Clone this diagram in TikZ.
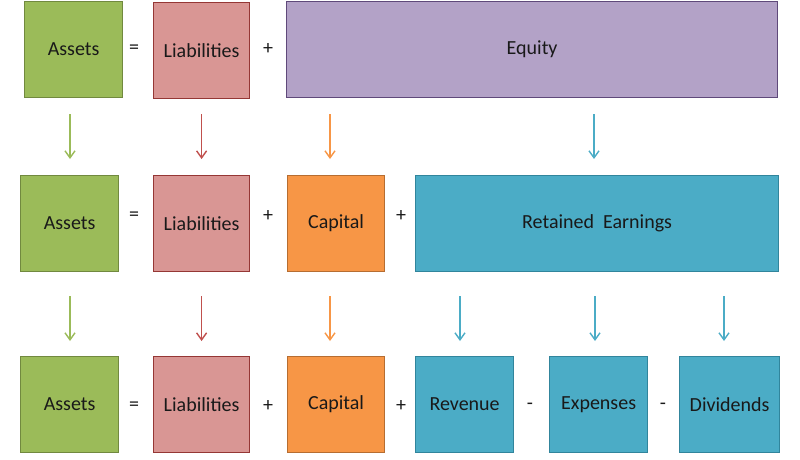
\documentclass[tikz,border=0pt]{standalone}
\usepackage{fontspec}
\setmainfont{Carlito}
\usetikzlibrary{arrows.meta,positioning}
\definecolor{grnfill}{HTML}{9BBB59}
\definecolor{grnline}{HTML}{71893F}
\definecolor{redfill}{HTML}{D99694}
\definecolor{redline}{HTML}{953735}
\definecolor{redarrow}{HTML}{C0504D}
\definecolor{purfill}{HTML}{B3A2C7}
\definecolor{purline}{HTML}{5F497A}
\definecolor{orafill}{HTML}{F79646}
\definecolor{oraline}{HTML}{B66D31}
\definecolor{blufill}{HTML}{4BACC6}
\definecolor{bluline}{HTML}{31859C}
\tikzstyle{block}=[draw, line width=1.2pt, anchor=north west, minimum height=96pt, inner sep=0pt, font=\fontsize{20}{23}\selectfont, text=black!90]
\tikzstyle{op}=[font=\fontsize{20}{23}\selectfont, text=black!90]
\tikzstyle{arrow}=[line width=1.4pt,-{Straight Barb[length=7pt,width=10pt]}]
\tikzstyle{green}=[block, fill=grnfill, draw=grnline, minimum width=98pt]
\tikzstyle{red}=[block, fill=redfill, draw=redline, minimum width=96pt]
\tikzstyle{orange}=[block, fill=orafill, draw=oraline, minimum width=97pt]
\tikzstyle{blue}=[block, fill=blufill, draw=bluline]
\begin{document}
\begin{tikzpicture}[x=1pt,y=-1pt]
    \useasboundingbox (0,0) rectangle (800,459);
    % first row
    \node (a1) [green] at (24,1) {Assets};
    \node (l1) [red] at (153,2) {Liabilities};
    \node (e1) [block, fill=purfill, draw=purline, minimum width=491pt] at (286,1) {Equity};
    % second row
    \node (a2) [green] at (20,175) {Assets};
    \node (l2) [red] at (153,175) {Liabilities};
    \node (c2) [orange] at (287,175) {Capital};
    \node (r2) [blue, minimum width=363pt] at (415,175) {Retained\ \ Earnings};
    % third row
    \node (a3) [green] at (20,356) {Assets};
    \node (l3) [red] at (153,356) {Liabilities};
    \node (c3) [orange] at (287,356) {Capital};
    \node (v3) [blue, minimum width=98pt] at (415,356) {Revenue};
    \node (x3) [blue, minimum width=98pt] at (549,356) {Expenses};
    \node (d3) [blue, minimum width=100pt] at (679,356) {Dividends};
    % operators
    \node (eq1) [op] at (134,49) {=};
    \node (pl1) [op] at (268,49) {+};
    \node (eq2) [op] at (134,216) {=};
    \node (pl2) [op] at (268,216) {+};
    \node (pl3) [op] at (401,216) {+};
    \node (eq3) [op] at (134,406) {=};
    \node (pl4) [op] at (268,406) {+};
    \node (pl5) [op] at (401,406) {+};
    \node (mi1) [op] at (530,406) {-};
    \node (mi2) [op] at (663,406) {-};
    % arrows
    \draw[arrow, grnfill, shorten <=16pt, shorten >=16pt] (a1.south -| 70,0) -- (a2.north -| 70,0);
    \draw[arrow, redarrow, shorten <=15pt, shorten >=16pt] (l1.south -| l2.north) -- (l2.north);
    \draw[arrow, orafill, shorten <=16pt, shorten >=16pt] (e1.south -| 330,0) -- (c2.north -| 330,0);
    \draw[arrow, blufill, shorten <=16pt, shorten >=16pt] (e1.south -| 594,0) -- (r2.north -| 594,0);
    \draw[arrow, grnfill, shorten <=24pt, shorten >=15pt] (a2.south -| 70,0) -- (a3.north -| 70,0);
    \draw[arrow, redarrow, shorten <=24pt, shorten >=15pt] (l2.south) -- (l3.north);
    \draw[arrow, orafill, shorten <=24pt, shorten >=15pt] (c2.south -| 330,0) -- (c3.north -| 330,0);
    \draw[arrow, blufill, shorten <=24pt, shorten >=15pt] (r2.south -| 460,0) -- (v3.north -| 460,0);
    \draw[arrow, blufill, shorten <=24pt, shorten >=15pt] (r2.south -| 595,0) -- (x3.north -| 595,0);
    \draw[arrow, blufill, shorten <=24pt, shorten >=15pt] (r2.south -| 724,0) -- (d3.north -| 724,0);
\end{tikzpicture}
\end{document}
